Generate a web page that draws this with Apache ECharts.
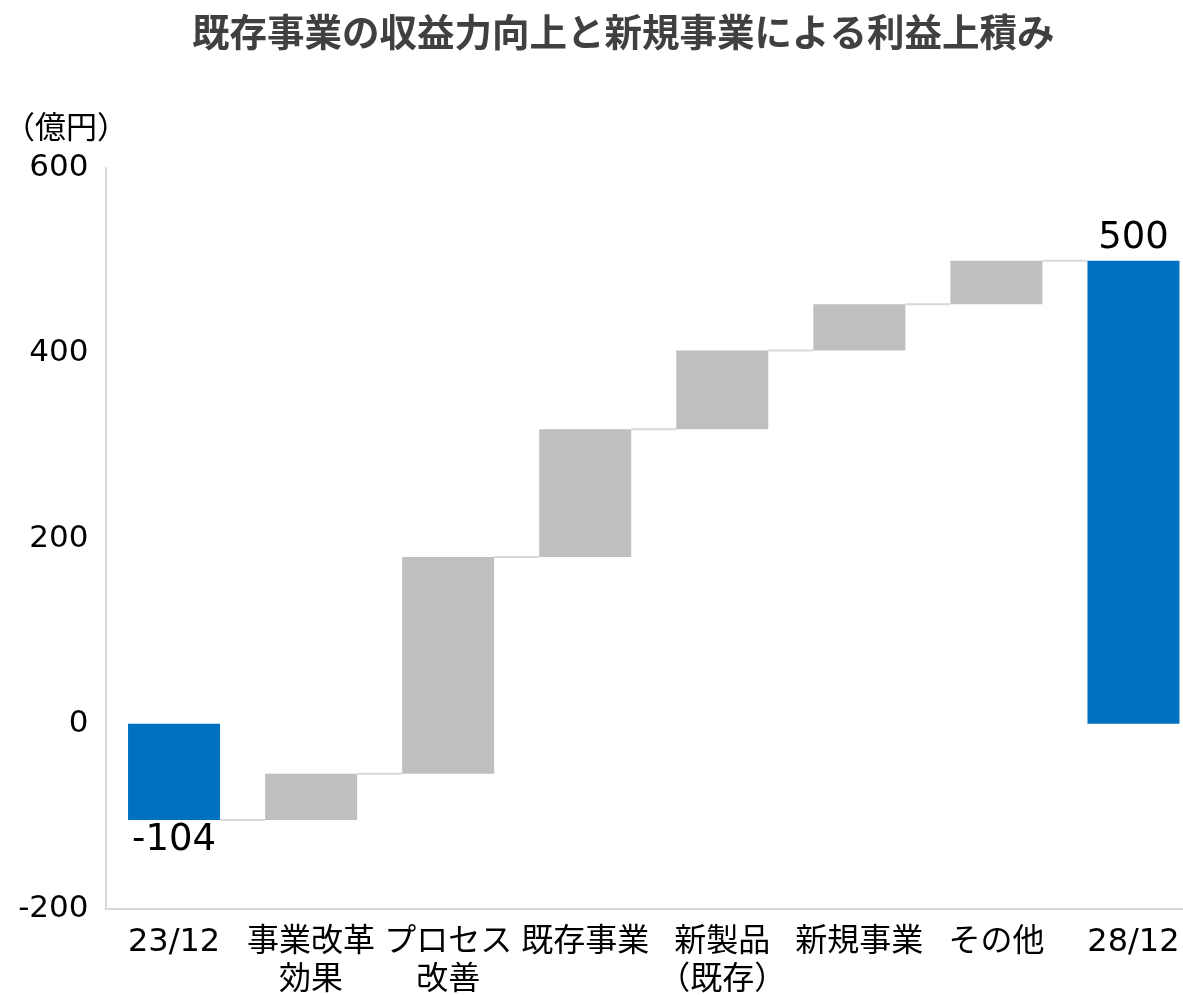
<!DOCTYPE html>
<html>
<head>
<meta charset="utf-8">
<style>
  html, body { margin: 0; padding: 0; background: #fff; }
  #chart { width: 1183px; height: 995px; }
</style>
<script src="https://cdn.jsdelivr.net/npm/echarts@6/dist/echarts.min.js"></script>
</head>
<body>
<div id="chart"></div>
<script>
// 利益の積み上げ（億円）
const categories = ['23/12', '事業改革\n効果', 'プロセス\n改善', '既存事業', '新製品\n（既存）', '新規事業', 'その他', '28/12'];
const startValue = -104;                  // 23/12 実績
const stepValues = [50, 234, 138, 85, 50, 47]; // 各施策による増益
const endValue = 500;                     // 28/12 目標
const axisMin = -200;
const axisMax = 600;
const axisStep = 200;

const FONT = "'DejaVu Sans', 'Noto Sans CJK JP', sans-serif";
const BAR_W = 92;

// 積み上げ区間 [カテゴリ番号, 下端, 上端]
const stepRanges = [];
// 区間の間をつなぐ線 [カテゴリ番号, 水準]
const connectors = [[0, startValue]];
let level = startValue;
stepValues.forEach((v, i) => {
  stepRanges.push([i + 1, level, level + v]);
  level += v;
  connectors.push([i + 1, level]);
});

const totals = categories.map((_, i) => {
  if (i === 0) return { value: startValue, label: { position: 'bottom', distance: 2 } };
  if (i === categories.length - 1) return { value: endValue, label: { position: 'top', distance: 4 } };
  return '-';
});

const chart = echarts.init(document.getElementById('chart'));
chart.setOption({
  animation: false,
  backgroundColor: '#fff',
  title: {
    text: '既存事業の収益力向上と新規事業による利益上積み',
    left: 187,
    top: 13,
    textStyle: { fontFamily: FONT, fontSize: 37.5, fontWeight: 'bold', color: '#404040' }
  },
  graphic: [{
    type: 'text',
    left: 4,
    top: 114,
    style: { text: '（億円）', font: '31px ' + FONT, fill: '#000' }
  }],
  grid: { left: 105.5, right: -19, top: 168, bottom: 86, outerBoundsMode: 'none', containLabel: false },
  xAxis: {
    type: 'category',
    data: categories,
    axisLine: { onZero: false, lineStyle: { color: '#d9d9d9', width: 2 } },
    axisTick: { show: false },
    axisLabel: { interval: 0, margin: 15, fontFamily: FONT, fontSize: 32, color: '#000', lineHeight: 38 }
  },
  yAxis: {
    type: 'value',
    min: axisMin,
    max: axisMax,
    interval: axisStep,
    splitLine: { show: false },
    axisLine: { show: true, lineStyle: { color: '#d9d9d9', width: 2 } },
    axisTick: { show: false },
    axisLabel: { margin: 17, fontFamily: FONT, fontSize: 31, color: '#000' }
  },
  series: [
    {
      type: 'bar',
      name: 'total',
      data: totals,
      barWidth: BAR_W,
      itemStyle: { color: '#0070C0' },
      label: { show: true, fontFamily: FONT, fontSize: 37, color: '#000' }
    },
    {
      type: 'custom',
      name: 'step',
      data: stepRanges,
      renderItem: function (params, api) {
        const lo = api.coord([api.value(0), api.value(1)]);
        const hi = api.coord([api.value(0), api.value(2)]);
        return {
          type: 'rect',
          shape: { x: lo[0] - BAR_W / 2, y: hi[1], width: BAR_W, height: lo[1] - hi[1] },
          style: { fill: '#BFBFBF' }
        };
      }
    },
    {
      type: 'custom',
      name: 'connector',
      data: connectors,
      renderItem: function (params, api) {
        const a = api.coord([api.value(0), api.value(1)]);
        const b = api.coord([api.value(0) + 1, api.value(1)]);
        return {
          type: 'line',
          shape: { x1: a[0] + BAR_W / 2, y1: a[1], x2: b[0] - BAR_W / 2, y2: b[1] },
          style: { stroke: '#d9d9d9', lineWidth: 2 }
        };
      }
    }
  ]
});
</script>
</body>
</html>
